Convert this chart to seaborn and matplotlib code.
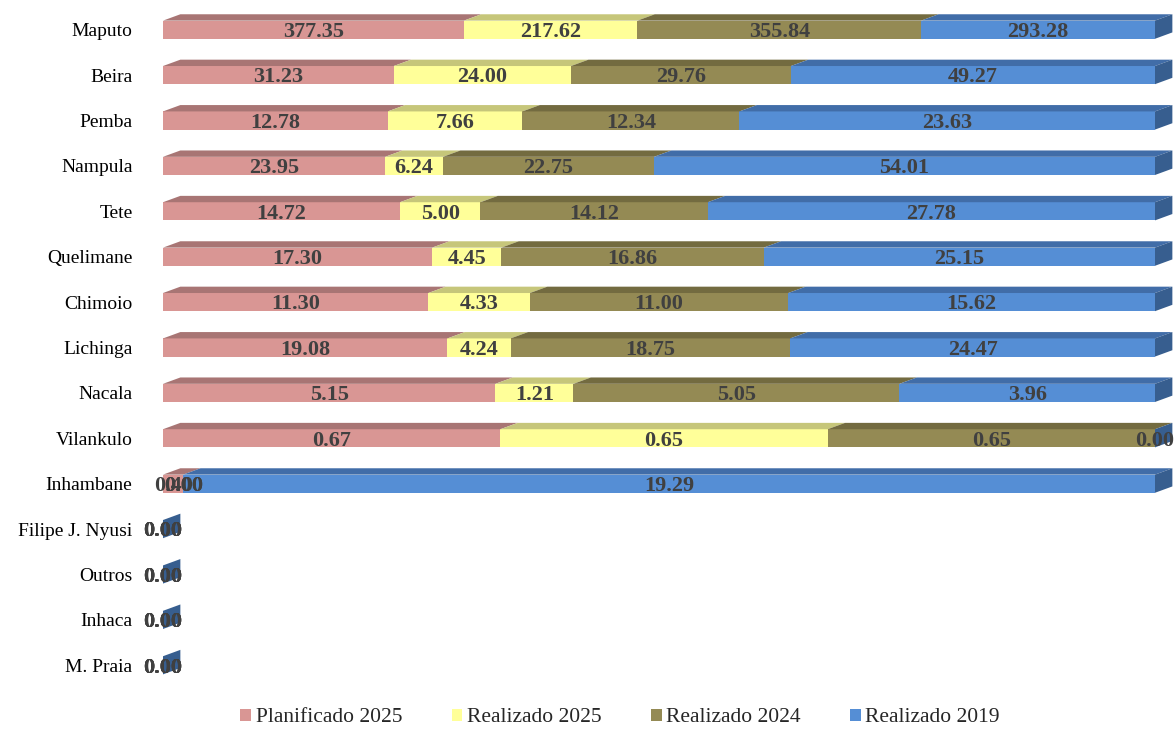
import numpy as np
import pandas as pd
import matplotlib
matplotlib.use("Agg")
import matplotlib.pyplot as plt
from matplotlib.patches import Polygon, Patch
import seaborn as sns

# --- data ---
cities = ["Maputo", "Beira", "Pemba", "Nampula", "Tete", "Quelimane", "Chimoio",
          "Lichinga", "Nacala", "Vilankulo", "Inhambane", "Filipe J. Nyusi",
          "Outros", "Inhaca", "M. Praia"]
series = ["Planificado 2025", "Realizado 2025", "Realizado 2024", "Realizado 2019"]
plan_2025 = [377.35, 31.23, 12.78, 23.95, 14.72, 17.30, 11.30, 19.08, 5.15, 0.67, 0.40, 0, 0, 0, 0]
real_2025 = [217.62, 24.00, 7.66, 6.24, 5.00, 4.45, 4.33, 4.24, 1.21, 0.65, 0.00, 0, 0, 0, 0]
real_2024 = [355.84, 29.76, 12.34, 22.75, 14.12, 16.86, 11.00, 18.75, 5.05, 0.65, 0.00, 0, 0, 0, 0]
real_2019 = [293.28, 49.27, 23.63, 54.01, 27.78, 25.15, 15.62, 24.47, 3.96, 0.00, 19.29, 0, 0, 0, 0]

front = ["#D99694", "#FFFF99", "#948A54", "#558ED5"]
top = ["#A87574", "#C6C67A", "#736B40", "#416DA8"]
side = "#375E8F"

vals = np.array([plan_2025, real_2025, real_2024, real_2019], dtype=float).T
tot = vals.sum(axis=1)
pct = np.divide(vals * 100, tot[:, None], out=np.zeros_like(vals), where=tot[:, None] > 0)
cum = np.cumsum(pct, axis=1)

df = pd.DataFrame(cum, columns=series)
df["city"] = cities

sns.set_theme(style="white")
plt.rcParams["font.family"] = ["Liberation Serif", "DejaVu Serif"]

fig = plt.figure(figsize=(11.75, 7.29), dpi=100)
ax = fig.add_axes([163 / 1175, 1 - 688 / 729, 992 / 1175, 681 / 729])

BH = 0.4
# stacked: draw cumulative totals from the back
for i in range(3, -1, -1):
    sns.barplot(data=df, x=series[i], y="city", order=cities, orient="h",
                color=front[i], saturation=1, width=BH, linewidth=0, ax=ax)

# fake 3D: top faces and right-hand side face
dx, dy = 1.75, 0.14
for r in range(len(cities)):
    yt = r - BH / 2
    yb = r + BH / 2
    left = 0.0
    for i in range(4):
        right = cum[r, i]
        if right - left > 0:
            ax.add_patch(Polygon([(left, yt), (right, yt), (right + dx, yt - dy), (left + dx, yt - dy)],
                                 closed=True, facecolor=top[i], edgecolor="none", clip_on=False, zorder=3))
        left = right
    end = cum[r, 3]
    ax.add_patch(Polygon([(end, yb), (end, yt), (end + dx, yt - dy), (end + dx, yb - dy)],
                         closed=True, facecolor=side, edgecolor="none", clip_on=False, zorder=3))
    # data labels
    left = 0.0
    for i in range(4):
        right = cum[r, i]
        ax.text((left + right) / 2, r + 0.05, f"{vals[r, i]:.2f}", ha="center", va="center",
                fontsize=16, fontweight="bold", color="#404040", zorder=5)
        left = right

ax.set_xlim(0, 100)
ax.set_ylim(len(cities) - 0.5, -0.5)
ax.set_xlabel("")
ax.set_ylabel("")
ax.set_xticks([])
ax.tick_params(axis="y", length=0, pad=22, labelsize=14, labelcolor="black")
sns.despine(ax=ax, left=True, bottom=True)

handles = [Patch(facecolor=c, edgecolor="none") for c in front]
fig.legend(handles, series, loc="center", bbox_to_anchor=(620 / 1175, 1 - 718 / 729), ncol=4,
           frameon=False, fontsize=15.5, handlelength=0.5, handleheight=0.5, handletextpad=0.2,
           columnspacing=2.3)

fig.savefig("out.png", dpi=100)
